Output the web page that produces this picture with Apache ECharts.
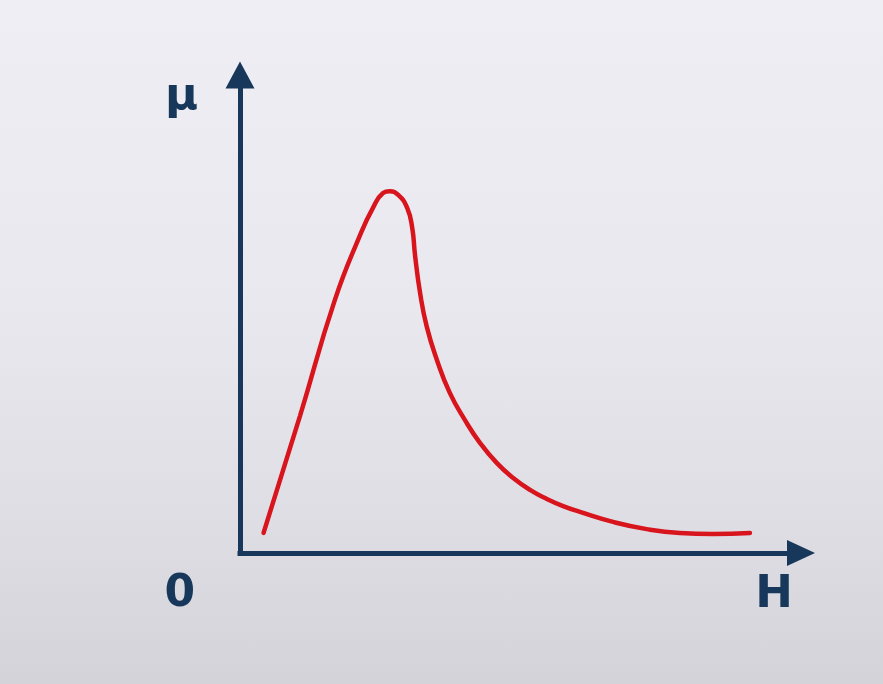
<!DOCTYPE html>
<html>
<head>
<meta charset="utf-8">
<script src="https://cdn.jsdelivr.net/npm/echarts@6/dist/echarts.min.js"></script>
<style>
	html, body { margin: 0; padding: 0; background: #fff; overflow: hidden; }
	#chart {
		width: 883px;
		height: 684px;
		background: linear-gradient( 180deg, #efeef5 0%, #e9e8ef 45%, #dfdee5 75%, #d4d3d9 100% );
	}
</style>
</head>
<body>
<div id="chart"></div>
<script>
// Magnetic field strength H (arbitrary units, 0..100 along the axis)
const hValues = [
	4.2, 10.7, 16.9, 21.4, 23.7, 25.5, 26.7, 28.2, 29.8, 30.7, 31.2, 32.1,
	33.3, 35.1, 37.4, 40.1, 42.8, 45.8, 48.7, 51.7, 54.7, 57.6, 60.6, 66.5,
	72.5, 78.4, 84.3, 90.9
];
// Permeability mu (arbitrary units, 0..100 along the axis)
const muValues = [
	4.2, 28.7, 52.9, 66.5, 72.2, 75.3, 75.7, 74.9, 72.2, 68.0, 62.3, 54.4,
	47.3, 40.4, 33.5, 27.8, 23.0, 18.8, 15.7, 13.2, 11.3, 9.8, 8.6, 6.5,
	5.0, 4.2, 4.0, 4.2
];
const xAxisName = 'H';
const yAxisName = 'μ';
const originLabel = '0';

const navy = '#17385b';
const labelFont = {
	color: navy,
	fontFamily: 'DejaVu Sans, sans-serif',
	fontWeight: 'bold',
	fontSize: 45
};

const chart = echarts.init( document.getElementById( 'chart' ), null, { renderer: 'canvas' } );

const curve = hValues.map( ( h, i ) => [ h, muValues[ i ] ] );

chart.setOption( {
	backgroundColor: 'transparent',
	animation: false,
	grid: { left: 240, right: 82, top: 75, bottom: 131 },
	xAxis: {
		type: 'value',
		min: 0,
		max: 100,
		interval: 100,
		name: xAxisName,
		nameLocation: 'end',
		nameGap: -27,
		nameTextStyle: Object.assign( {}, labelFont, {
			align: 'center',
			verticalAlign: 'top',
			padding: [ 20, 0, 0, 0 ]
		} ),
		axisLine: {
			lineStyle: { color: navy, width: 5, cap: 'square' },
			symbol: [ 'none', 'triangle' ],
			symbolSize: [ 26, 28 ]
		},
		axisTick: { show: false },
		splitLine: { show: false },
		axisLabel: {
			showMaxLabel: false,
			margin: 20,
			align: 'right',
			padding: [ 0, 45, 0, 0 ],
			formatter: ( v ) => ( v === 0 ? originLabel : '' ),
			color: navy,
			fontFamily: labelFont.fontFamily,
			fontWeight: 'bold',
			fontSize: 44
		}
	},
	yAxis: {
		type: 'value',
		min: 0,
		max: 100,
		name: yAxisName,
		nameLocation: 'end',
		nameGap: -22,
		nameTextStyle: Object.assign( {}, labelFont, {
			align: 'right',
			verticalAlign: 'middle',
			padding: [ 0, 42, 0, 0 ]
		} ),
		axisLine: {
			lineStyle: { color: navy, width: 5, cap: 'square' },
			symbol: [ 'none', 'triangle' ],
			symbolSize: [ 29, 27 ]
		},
		axisTick: { show: false },
		splitLine: { show: false },
		axisLabel: { show: false }
	},
	series: [ {
		type: 'line',
		data: curve,
		smooth: 0.5,
		showSymbol: false,
		lineStyle: { color: '#d8141c', width: 4.5, cap: 'round', join: 'round' }
	} ]
} );
</script>
</body>
</html>
